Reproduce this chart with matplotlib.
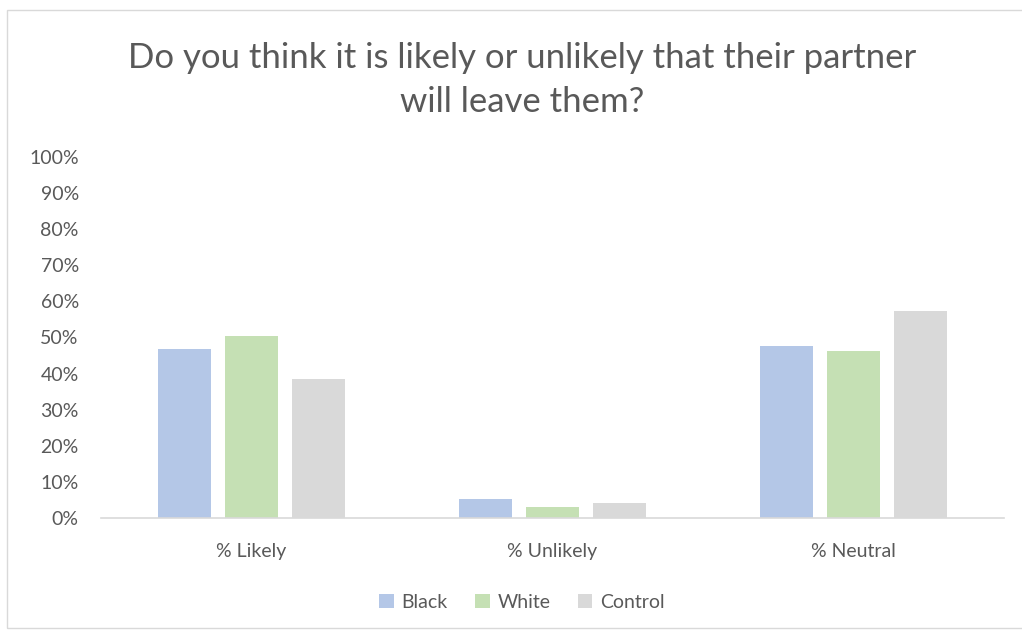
import numpy as np
import matplotlib.pyplot as plt
from matplotlib.patches import Rectangle

categories = ["% Likely", "% Unlikely", "% Neutral"]
black = [46.8, 5.3, 47.7]
white = [50.5, 3.1, 46.3]
control = [38.5, 4.1, 57.4]
series_names = ["Black", "White", "Control"]
colors = ["#B4C7E7", "#C5E0B4", "#D9D9D9"]
title = "Do you think it is likely or unlikely that their partner\nwill leave them?"

plt.rcParams['font.family'] = ['Lato', 'DejaVu Sans']
txt = "#595959"

fig = plt.figure(figsize=(10.22, 6.31), dpi=100)
ax = fig.add_axes([101 / 1022, 1 - 518 / 631, 903 / 1022, 361 / 631])

# chart frame
fig.patches.append(Rectangle((7 / 1022, 3 / 631), 1.1, 618 / 631, transform=fig.transFigure,
                             fill=False, edgecolor="#D9D9D9", linewidth=1))

x = np.arange(len(categories))
w = 0.176
off = 0.221
for i, (vals, name, c) in enumerate(zip([black, white, control], series_names, colors)):
    ax.bar(x + (i - 1) * off, vals, w, color=c, label=name, zorder=2)

ax.set_xlim(-0.5, 2.5)
ax.set_ylim(0, 100)
ax.set_yticks(range(0, 101, 10))
ax.set_yticklabels([f"{v}%" for v in range(0, 101, 10)])
ax.set_xticks(x)
ax.set_xticklabels(categories)
ax.tick_params(axis="both", length=0, labelsize=14, colors=txt)
ax.tick_params(axis="x", pad=18)
ax.tick_params(axis="y", pad=16)
for s in ["top", "right", "left"]:
    ax.spines[s].set_visible(False)
ax.spines["bottom"].set_color("#D9D9D9")
ax.spines["bottom"].set_linewidth(1.2)

fig.text(522 / 1022, 1 - 80 / 631, title, ha="center", va="center", fontsize=25,
         color=txt, linespacing=1.45)

fig.legend(loc="center", bbox_to_anchor=(522 / 1022, 1 - 602 / 631), ncol=3, frameon=False,
           fontsize=14, labelcolor=txt, handlelength=0.75, handleheight=0.75,
           handletextpad=0.4, columnspacing=1.4)

fig.savefig("out.png", dpi=100)
